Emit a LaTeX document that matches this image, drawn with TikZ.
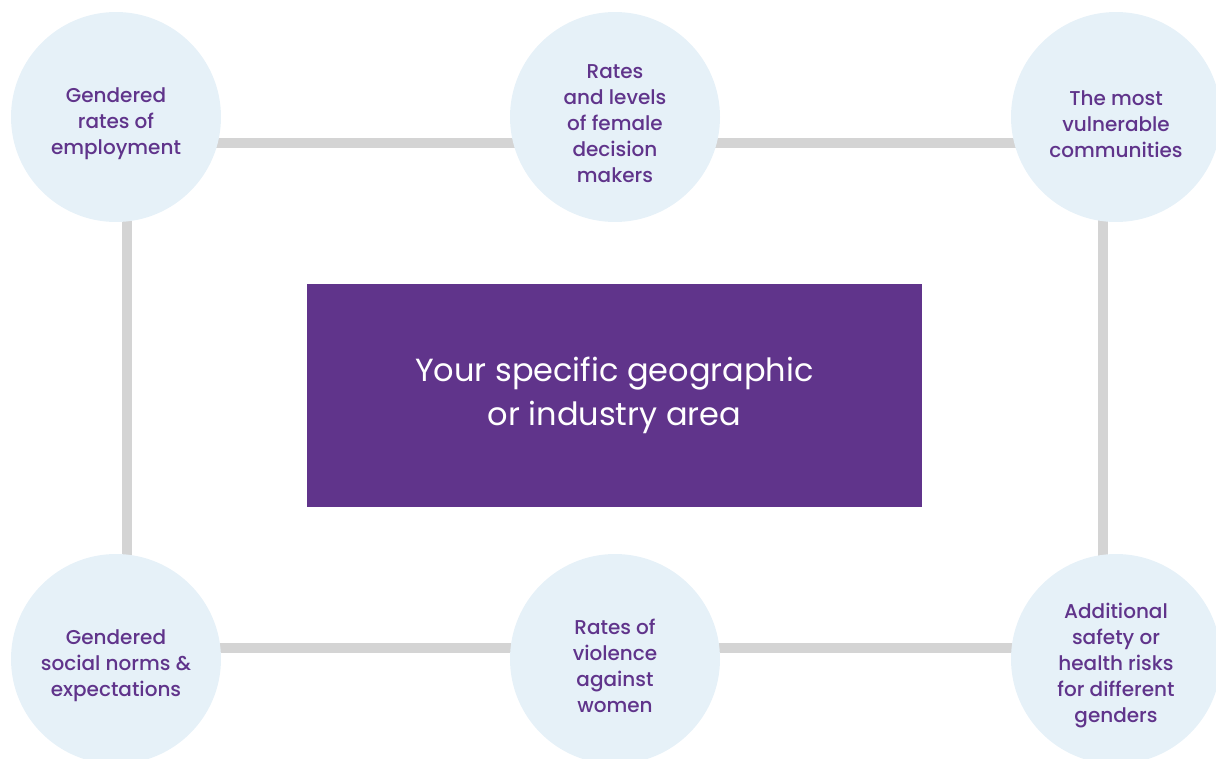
\documentclass[tikz,border=0pt]{standalone}
\usepackage{fontspec}
\setmainfont{Poppins}
\newfontfamily\topicfont{Poppins Medium}
\usetikzlibrary{backgrounds}

\definecolor{vicpurple}{HTML}{60348B}
\definecolor{paleblue}{HTML}{E6F1F8}
\definecolor{linkgrey}{HTML}{D4D4D4}

\tikzset{
  topic/.style={circle, fill=paleblue, minimum size=210pt, inner sep=0pt,
    label={[topictext]center:#1}},
  topictext/.style={align=center, text=vicpurple, yshift=-7pt,
    font=\topicfont\fontsize{20}{26}\selectfont},
  focus/.style={fill=vicpurple, minimum width=615pt, minimum height=223pt,
    align=center, text=white, font=\fontsize{32}{44}\selectfont},
  link/.style={draw=linkgrey, line width=10pt},
}

\begin{document}
\begin{tikzpicture}[x=1pt, y=-1pt]
  \useasboundingbox (0,0) rectangle (1216,758);

  % Centre box
  \node[focus] (area) at (614.5,395.5) {Your specific geographic\\or industry area};

  % Top row of topics
  \node[topic={Gendered\\rates of\\employment}] (employment) at (116,117) {};
  \node[topic={Rates\\and levels\\of female\\decision\\makers}] (leaders) at (615,117) {};
  \node[topic={The most\\vulnerable\\communities}] (vulnerable) at (1116,117) {};

  % Bottom row of topics
  \node[topic={Gendered\\social norms \&\\expectations}] (norms) at (116,659) {};
  \node[topic={Rates of\\violence\\against\\women}] (violence) at (615,659) {};
  \node[topic={Additional\\safety or\\health risks\\for different\\genders}] (risks) at (1116,659) {};

  % Grey frame linking the topics, behind the circles
  \begin{scope}[on background layer]
    \draw[link] ([yshift=-26pt]employment.center) -- ([yshift=-26pt]leaders.center);
    \draw[link] ([yshift=-26pt]leaders.center) -- ([yshift=-26pt]vulnerable.center);
    \draw[link] ([xshift=11pt]employment.center) -- ([xshift=11pt]norms.center);
    \draw[link] ([xshift=-13pt]vulnerable.center) -- ([xshift=-13pt]risks.center);
    \draw[link] ([yshift=11pt]norms.center) -- ([yshift=11pt]violence.center);
    \draw[link] ([yshift=11pt]violence.center) -- ([yshift=11pt]risks.center);
  \end{scope}
\end{tikzpicture}
\end{document}
